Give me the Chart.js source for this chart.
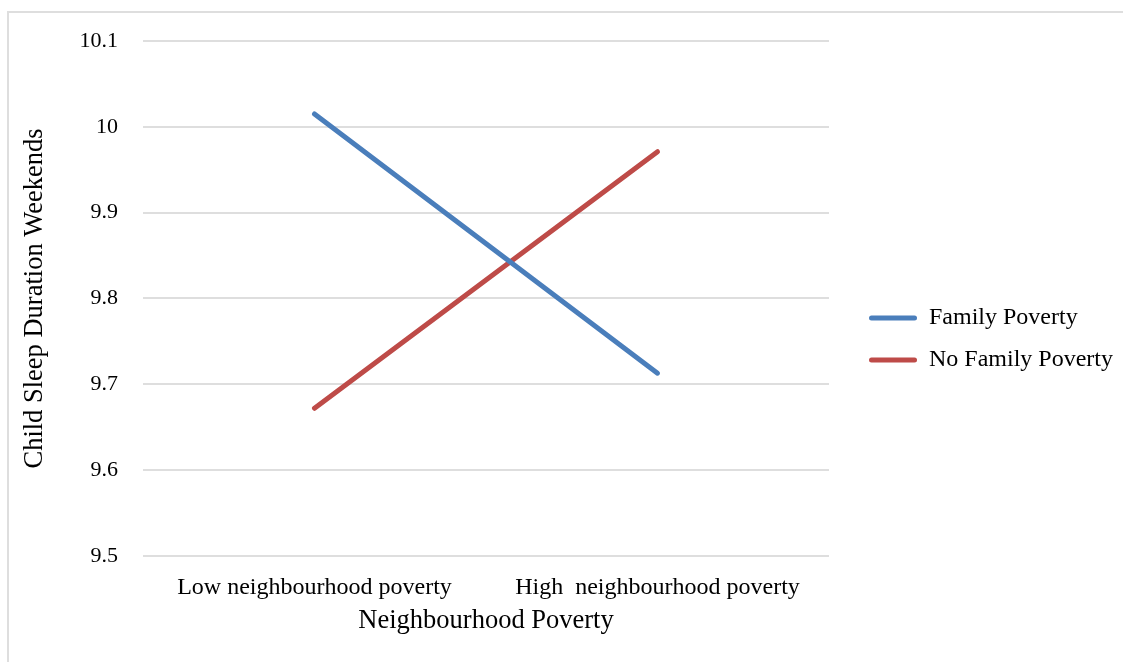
<!DOCTYPE html>
<html>
<head>
<meta charset="utf-8">
<script src="https://cdn.jsdelivr.net/npm/chart.js@4/dist/chart.umd.min.js"></script>
<style>
  html, body { margin: 0; padding: 0; background: #fff; }
  #frame { position: absolute; left: 7px; top: 11px; width: 1200px; height: 700px;
           border-left: 2px solid #dedede; border-top: 2px solid #dedede; }
  #wrap { position: absolute; left: 0; top: 0; width: 1123px; height: 662px; }
</style>
</head>
<body>
<div id="frame"></div>
<div id="wrap"><canvas id="myChart" width="1123" height="662"></canvas></div>
<script>
var categories = ["Low neighbourhood poverty", "High  neighbourhood poverty"];
var seriesNames = ["Family Poverty", "No Family Poverty"];
var familyPoverty = [10.015, 9.713];
var noFamilyPoverty = [9.672, 9.971];
var seriesColors = ["#4a7ebb", "#be4b48"];
var yMin = 9.5, yMax = 10.1, yStep = 0.1;

var serif = "'Liberation Serif', 'Times New Roman', serif";

function draw() {
  var ctx = document.getElementById('myChart').getContext('2d');
  var chart = new Chart(ctx, {
    type: 'line',
    data: {
        labels: categories,
        datasets: [{
            label: seriesNames[0],
            data: familyPoverty,
            borderColor: seriesColors[0],
            backgroundColor: seriesColors[0],
            borderWidth: 5,
            borderCapStyle: 'round',
            pointRadius: 0,
            tension: 0
        }, {
            label: seriesNames[1],
            data: noFamilyPoverty,
            borderColor: seriesColors[1],
            backgroundColor: seriesColors[1],
            borderWidth: 5,
            borderCapStyle: 'round',
            pointRadius: 0,
            tension: 0
        }]
    },
    options: {
        responsive: false,
        animation: false,
        layout: { padding: { left: 10, top: 41, right: 0, bottom: 25 } },
        plugins: {
            tooltip: { enabled: false },
            legend: {
                position: 'right',
                maxWidth: 400,
                labels: {
                    font: { family: serif, size: 24 },
                    color: '#000',
                    boxWidth: 48,
                    boxHeight: 5,
                    padding: 18,
                    generateLabels: function(c) {
                        var items = Chart.defaults.plugins.legend.labels.generateLabels(c);
                        items.forEach(function(it) { it.lineWidth = 0; it.borderRadius = 2.5; });
                        return items;
                    }
                }
            }
        },
        scales: {
            x: {
                offset: true,
                grid: { display: false },
                border: { display: false },
                ticks: { font: { family: serif, size: 24 }, color: '#000', padding: 9, maxRotation: 0, autoSkip: false },
                title: { display: true, text: 'Neighbourhood Poverty', color: '#000',
                         font: { family: serif, size: 26.5 }, padding: { top: 0, bottom: 0 } },
                afterFit: function(s) { s.height = 81; }
            },
            y: {
                min: yMin,
                max: yMax,
                grid: { color: '#dedede', lineWidth: 2, drawTicks: false },
                border: { display: false },
                ticks: {
                    stepSize: yStep,
                    padding: 25,
                    color: '#000',
                    font: { family: serif, size: 22 },
                    callback: function(v) { return String(Number(v.toFixed(1))); }
                },
                title: { display: true, text: 'Child Sleep Duration Weekends', color: '#000',
                         font: { family: serif, size: 26.5 }, padding: { top: 9, bottom: 0 } },
                afterFit: function(s) { s.width = 133; }
            },
            gap: {
                position: 'right',
                display: true,
                grid: { display: false },
                border: { display: false },
                ticks: { display: false },
                afterFit: function(s) { s.width = 22; }
            }
        }
    }
  });
}

Promise.all([
  document.fonts.load('24px "Liberation Serif"'),
  document.fonts.load('26.5px "Liberation Serif"')
]).then(draw, draw);
</script>
</body>
</html>
